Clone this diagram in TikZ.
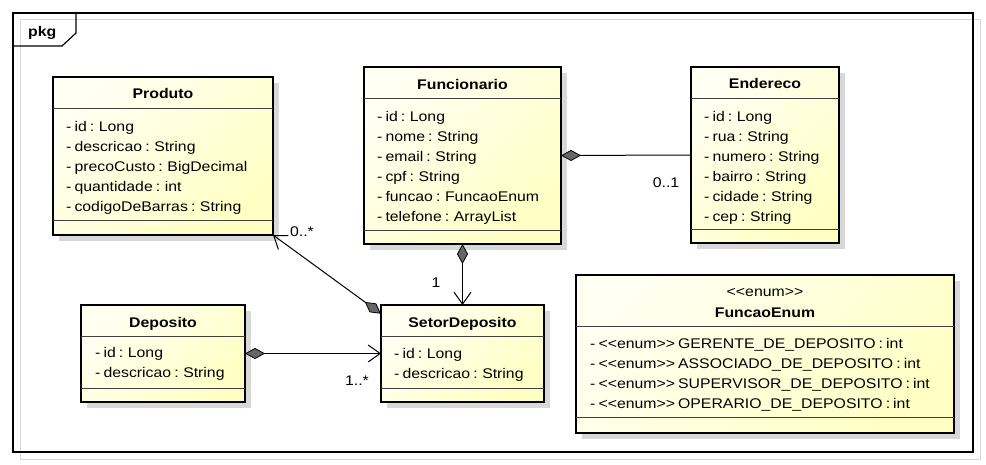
\documentclass[tikz,border=0pt]{standalone}
\usepackage{fontspec}
\setmainfont{Liberation Sans}[FakeStretch=1.13, WordSpace=0.7]
\usepackage{tikz}
\usetikzlibrary{arrows.meta,shadows}

\definecolor{creamlight}{RGB}{255,255,242}
\definecolor{creamdark}{RGB}{255,255,196}
\definecolor{framegray}{RGB}{216,216,216}
\newcommand{\stereo}[1]{<{}<#1>{}>}

\begin{document}
\begin{tikzpicture}[x=1pt, y=-1pt,
    classbox/.style={draw, line width=2.4pt, anchor=north west, inner sep=0pt, outer sep=0pt,
      top color=creamlight, bottom color=creamdark, shading angle=45,
      drop shadow={shadow xshift=6pt, shadow yshift=-6pt, fill=framegray, opacity=1}},
    classname/.style={anchor=base, inner sep=0pt, font=\fontsize{14}{16}\selectfont\bfseries},
    attrs/.style={anchor=north west, inner sep=0pt, align=left, font=\fontsize{14}{20}\selectfont},
    mult/.style={anchor=base, inner sep=0pt, font=\fontsize{14}{16}\selectfont},
    sep/.style={line width=0.8pt, black!75},
    aggr/.style={line width=1pt, {Diamond[length=20pt, width=11pt, fill=black!60, line width=0.8pt]}-},
    aggrnav/.style={line width=1pt, {Diamond[length=20pt, width=11pt, fill=black!60, line width=0.8pt]}-{Straight Barb[length=12pt, width=17pt]}}]

    \path[use as bounding box, fill=white] (0,0) rectangle (986,465);

    % Package frame
    \draw[framegray, line width=1pt] (20,20) rectangle (980,459);
    \draw[line width=1.5pt] (13,13) rectangle (973,452);
    \draw[line width=1.2pt] (13,46) -- (62,46) -- (76,33) -- (76,13);
    \node[anchor=base west, inner sep=0pt, font=\fontsize{14}{16}\selectfont\bfseries] (pkg) at (28,37) {pkg};

    % Produto
    \node[classbox, minimum width=220pt, minimum height=158pt] (produto) at (53,77) {};
    \draw[sep] (53,108) -- (273,108);
    \draw[sep] (53,220) -- (273,220);
    \node[classname] (produto-name) at (163,99) {Produto};
    \node[attrs] (produto-attr) at (66,121) {- id : Long\\- descricao : String\\- precoCusto : BigDecimal\\- quantidade : int\\- codigoDeBarras : String};

    % Funcionario
    \node[classbox, minimum width=197pt, minimum height=177pt] (funcionario) at (364,67) {};
    \draw[sep] (364,98) -- (561,98);
    \draw[sep] (364,230) -- (561,230);
    \node[classname] (funcionario-name) at (462.5,90) {Funcionario};
    \node[attrs] (funcionario-attr) at (377,111) {- id : Long\\- nome : String\\- email : String\\- cpf : String\\- funcao : FuncaoEnum\\- telefone : ArrayList};

    % Endereco
    \node[classbox, minimum width=148pt, minimum height=176pt] (endereco) at (691,67) {};
    \draw[sep] (691,98) -- (839,98);
    \draw[sep] (691,229) -- (839,229);
    \node[classname] (endereco-name) at (765,89) {Endereco};
    \node[attrs] (endereco-attr) at (704,111) {- id : Long\\- rua : String\\- numero : String\\- bairro : String\\- cidade : String\\- cep : String};

    % Deposito
    \node[classbox, minimum width=164pt, minimum height=97pt] (deposito) at (81,305) {};
    \draw[sep] (81,336) -- (245,336);
    \draw[sep] (81,388) -- (245,388);
    \node[classname] (deposito-name) at (163,327) {Deposito};
    \node[attrs] (deposito-attr) at (95,347) {- id : Long\\- descricao : String};

    % SetorDeposito
    \node[classbox, minimum width=163pt, minimum height=97pt] (setor) at (381,305) {};
    \draw[sep] (381,336) -- (544,336);
    \draw[sep] (381,388) -- (544,388);
    \node[classname] (setor-name) at (462.5,327) {SetorDeposito};
    \node[attrs] (setor-attr) at (394,348) {- id : Long\\- descricao : String};

    % FuncaoEnum
    \node[classbox, minimum width=378pt, minimum height=158pt] (funcao) at (576,275) {};
    \draw[sep] (576,326) -- (954,326);
    \draw[sep] (576,417) -- (954,417);
    \node[mult] (funcao-stereo) at (765,297) {\stereo{enum}};
    \node[classname] (funcao-name) at (765,318) {FuncaoEnum};
    \node[attrs] (funcao-attr) at (590,338) {- \stereo{enum} GERENTE\_DE\_DEPOSITO : int\\- \stereo{enum} ASSOCIADO\_DE\_DEPOSITO : int\\- \stereo{enum} SUPERVISOR\_DE\_DEPOSITO : int\\- \stereo{enum} OPERARIO\_DE\_DEPOSITO : int};

    % Associations
    \draw[aggr] (funcionario.east) -- (endereco.west);
    \draw[aggrnav] (funcionario.south) -- (setor.north);
    \draw[aggrnav] (deposito.east) -- (setor.west);
    \draw[aggrnav] (setor.154) -- (produto.south east);

    % Multiplicities
    \node[mult] (m-endereco) at (666,188) {0..1};
    \node[mult] (m-setor-top) at (436,288) {1};
    \node[mult] (m-setor-left) at (357,385) {1..*};
    \node[mult] (m-produto) at (302,237) {0..*};
\end{tikzpicture}
\end{document}
